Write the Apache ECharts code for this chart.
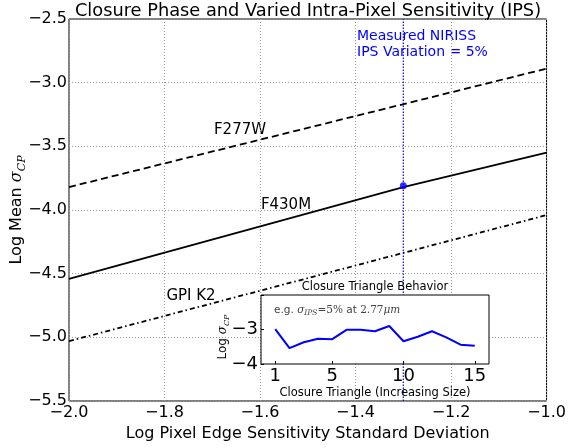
<!DOCTYPE html>
<html>
<head>
<meta charset="utf-8">
<script src="https://cdn.jsdelivr.net/npm/echarts@6/dist/echarts.min.js"></script>
<style>html,body{margin:0;padding:0;background:#fff}#c{width:569px;height:448px}</style>
</head>
<body>
<div id="c"></div>
<script>
// ---- data ----
var xTicks = [-2.0, -1.8, -1.6, -1.4, -1.2, -1.0];
var yTicks = [-5.5, -5.0, -4.5, -4.0, -3.5, -3.0, -2.5];
var f277w = [[-2.0, -3.82], [-1.0, -2.89]];
var f430m = [[-2.0, -4.54], [-1.3, -3.82], [-1.0, -3.55]];
var gpiK2 = [[-2.0, -5.03], [-1.0, -4.04]];
var nirissX = -1.3;
var nirissPoint = [[-1.3, -3.81]];
var triangles = [1, 2, 3, 4, 5, 6, 7, 8, 9, 10, 11, 12, 13, 14, 15];
var triSigma = [-2.99, -3.54, -3.37, -3.27, -3.28, -3.01, -3.01, -3.05, -2.90, -3.34, -3.21, -3.05, -3.23, -3.44, -3.47];
var insetXTicks = [1, 5, 10, 15];
var insetYTicks = [-4, -3];

var FONT = 'DejaVu Sans';
function fmt1(v){ return (v < 0 ? '\u2212' : '') + Math.abs(v).toFixed(1); }
function fmt0(v){ return (v < 0 ? '\u2212' : '') + Math.abs(v).toFixed(0); }

var chart = echarts.init(document.getElementById('c'), null, {renderer: 'canvas'});
var grid = '#999';
var graphics = [
    {id: 'title', type: 'text', x: 308, y: 11, style: {text: 'Closure Phase and Varied Intra-Pixel Sensitivity (IPS)', fill: '#000', font: '17.8px "DejaVu Sans"', align: 'center', verticalAlign: 'middle'}},
    {id: 'ylab', type: 'text', x: 17, y: 210, rotation: Math.PI / 2, style: {
      text: '{a|Log Mean }{s|\u03c3}{b|CP}', align: 'center', verticalAlign: 'middle',
      rich: {
        a: {fontFamily: FONT, fontSize: 16, fill: '#000', lineHeight: 21, verticalAlign: 'middle'},
        s: {fontFamily: 'DejaVu Serif', fontStyle: 'italic', fontSize: 16, fill: '#000', lineHeight: 21, verticalAlign: 'middle'},
        b: {fontFamily: 'DejaVu Serif', fontStyle: 'italic', fontSize: 11, fill: '#000', lineHeight: 21, verticalAlign: 'bottom'}
      }}},
    {id: 'n1', type: 'text', x: 357, y: 36, style: {text: 'Measured NIRISS', fill: '#0000ff', font: '14px "DejaVu Sans"', align: 'left', verticalAlign: 'middle'}},
    {id: 'n2', type: 'text', x: 357, y: 52, style: {text: 'IPS Variation = 5%', fill: '#0000ff', font: '14px "DejaVu Sans"', align: 'left', verticalAlign: 'middle'}},
    {id: 'l1', type: 'text', x: 240, y: 130, style: {text: 'F277W', fill: '#000', font: '15px "DejaVu Sans"', align: 'center', verticalAlign: 'middle'}},
    {id: 'l2', type: 'text', x: 286, y: 205, style: {text: 'F430M', fill: '#000', font: '15px "DejaVu Sans"', align: 'center', verticalAlign: 'middle'}},
    {id: 'l3', type: 'text', x: 191, y: 296, style: {text: 'GPI K2', fill: '#000', font: '15px "DejaVu Sans"', align: 'center', verticalAlign: 'middle'}},
    {id: 'it', type: 'text', x: 375, y: 287, zlevel: 2, style: {text: 'Closure Triangle Behavior', fill: '#000', font: '11.5px "DejaVu Sans"', align: 'center', verticalAlign: 'middle'}},
    {id: 'iy', type: 'text', x: 223, y: 337, rotation: Math.PI / 2, zlevel: 2, style: {
      text: '{a|Log }{s|\u03c3}{b|CP}', align: 'center', verticalAlign: 'middle',
      rich: {
        a: {fontFamily: FONT, fontSize: 12, fill: '#000', lineHeight: 16, verticalAlign: 'middle'},
        s: {fontFamily: 'DejaVu Serif', fontStyle: 'italic', fontSize: 12, fill: '#000', lineHeight: 16, verticalAlign: 'middle'},
        b: {fontFamily: 'DejaVu Serif', fontStyle: 'italic', fontSize: 8, fill: '#000', lineHeight: 16, verticalAlign: 'bottom'}
      }}},
    {id: 'eg', type: 'text', x: 274, y: 310, zlevel: 2, style: {
      text: '{a|e.g. }{s|\u03c3}{b|IPS}{m|=5%}{a| at }{m|2.77}{s|\u03bcm}', align: 'left', verticalAlign: 'middle',
      rich: {
        a: {fontFamily: FONT, fontSize: 10.5, fill: '#444', lineHeight: 14, verticalAlign: 'middle'},
        s: {fontFamily: 'DejaVu Serif', fontStyle: 'italic', fontSize: 10.5, fill: '#444', lineHeight: 14, verticalAlign: 'middle'},
        m: {fontFamily: 'DejaVu Serif', fontSize: 10.5, fill: '#444', lineHeight: 14, verticalAlign: 'middle'},
        b: {fontFamily: 'DejaVu Serif', fontStyle: 'italic', fontSize: 7.5, fill: '#444', lineHeight: 14, verticalAlign: 'bottom'}
      }}}
];
var option = {
  animation: false,
  backgroundColor: '#fff',
  grid: [
    {left: 69, top: 19, width: 478, height: 382, show: true, borderColor: '#000', borderWidth: 1, backgroundColor: 'transparent'},
    {left: 261, top: 295, width: 228, height: 69, show: true, borderColor: '#000', borderWidth: 1, backgroundColor: '#fff', zlevel: 1}
  ],
  xAxis: [
    {type: 'value', gridIndex: 0, min: -2.0, max: -1.0, interval: 0.2,
     axisLine: {show: false}, axisTick: {show: false},
     axisLabel: {formatter: fmt1, color: '#000', fontFamily: FONT, fontSize: 16, margin: 4},
     splitLine: {show: true, lineStyle: {color: grid, width: 1, type: [1, 2]}},
     name: 'Log Pixel Edge Sensitivity Standard Deviation', nameLocation: 'middle', nameGap: 23,
     nameTextStyle: {color: '#000', fontFamily: FONT, fontSize: 16, verticalAlign: 'top'}},
    {type: 'value', gridIndex: 1, min: 0, max: 16, zlevel: 2,
     axisLine: {show: false}, axisTick: {show: true, inside: true, length: 3, customValues: insetXTicks, lineStyle: {color: '#000'}},
     axisLabel: {customValues: insetXTicks, color: '#000', fontFamily: FONT, fontSize: 18, margin: 3},
     splitLine: {show: false},
     name: 'Closure Triangle (Increasing Size)', nameLocation: 'middle', nameGap: 23,
     nameTextStyle: {color: '#000', fontFamily: FONT, fontSize: 11.5, verticalAlign: 'top'}}
  ],
  yAxis: [
    {type: 'value', gridIndex: 0, min: -5.5, max: -2.5, interval: 0.5,
     axisLine: {show: false}, axisTick: {show: false},
     axisLabel: {formatter: fmt1, color: '#000', fontFamily: FONT, fontSize: 16, margin: 2},
     splitLine: {show: true, lineStyle: {color: grid, width: 1, type: [1, 2]}}},
    {type: 'value', gridIndex: 1, min: -4, max: -2, interval: 1, zlevel: 2,
     axisLine: {show: false}, axisTick: {show: true, inside: true, length: 3, lineStyle: {color: '#000'}},
     axisLabel: {show: false},
     splitLine: {show: false}}
  ],
  series: [
    {type: 'line', xAxisIndex: 0, yAxisIndex: 0, data: f277w, symbol: 'none',
     lineStyle: {color: '#000', width: 1.8, type: [7, 4]}},
    {type: 'line', xAxisIndex: 0, yAxisIndex: 0, data: f430m, symbol: 'none',
     lineStyle: {color: '#000', width: 1.8}},
    {type: 'line', xAxisIndex: 0, yAxisIndex: 0, data: gpiK2, symbol: 'none',
     lineStyle: {color: '#000', width: 1.8, type: [5, 3, 1.5, 3]}},
    {type: 'line', xAxisIndex: 0, yAxisIndex: 0, data: [[nirissX, yTicks[0]], [nirissX, yTicks[yTicks.length - 1]]], symbol: 'none',
     lineStyle: {color: '#0000ff', width: 1.2, type: [1.5, 1.5]}},
    {type: 'scatter', xAxisIndex: 0, yAxisIndex: 0, data: nirissPoint, symbol: 'circle', symbolSize: 7,
     itemStyle: {color: '#0000ff'}, z: 5},
    {type: 'line', xAxisIndex: 1, yAxisIndex: 1, zlevel: 2, z: 5,
     data: triangles.map(function(t, i){ return [t, triSigma[i]]; }), symbol: 'none',
     lineStyle: {color: '#0000ff', width: 2}}
  ],
  graphic: graphics
};
chart.setOption(option);
// inset y tick labels placed through the inset axis scale
var extra = insetYTicks.map(function(v, i){
  var p = chart.convertToPixel({xAxisIndex: 1, yAxisIndex: 1}, [0, v]);
  return {id: 'iyt' + i, type: 'text', x: p[0] - 3, y: p[1], zlevel: 3,
          style: {text: fmt0(v), fill: '#000', font: '18px "DejaVu Sans"', align: 'right', verticalAlign: 'middle'}};
});
chart.setOption({graphic: extra});
</script>
</body>
</html>
